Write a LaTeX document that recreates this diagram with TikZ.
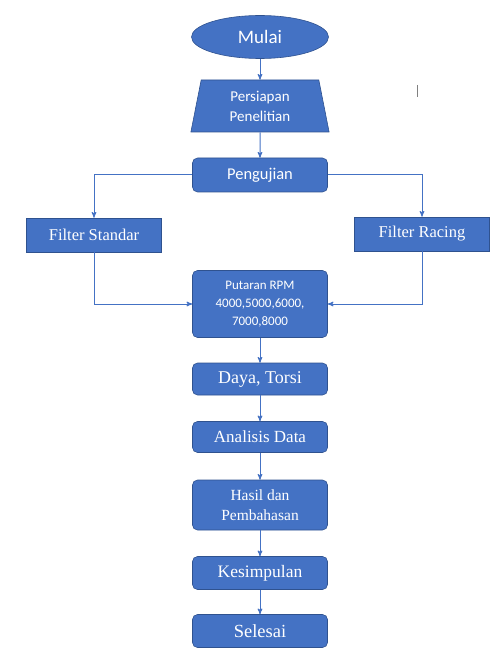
\documentclass[tikz,border=0pt]{standalone}
\usepackage{fontspec}
\setmainfont{Liberation Serif}
\newfontfamily\calibri{Carlito}
\usepackage{xcolor}
\usepackage{tikz}
\usetikzlibrary{arrows}
\usetikzlibrary{shapes.geometric}
\usetikzlibrary{positioning}

\definecolor{boxblue}{HTML}{4472C4}
\definecolor{edgeblue}{HTML}{2F528F}

\begin{document}
\begin{tikzpicture}[x=1pt,y=1pt,->,>=stealth',thick,node distance=60pt,
    flow/.style={draw=boxblue,line width=1pt},
    main node/.style={rectangle,rounded corners=5pt,fill=boxblue,draw=edgeblue,line width=0.6pt,text=white,align=center,minimum width=135pt,inner sep=2pt},
    plain node/.style={main node,rounded corners=0pt}]

    \useasboundingbox (0,0) rectangle (503,-652);

    \node[ellipse,fill=boxblue,draw=edgeblue,line width=0.6pt,text=white,minimum width=137pt,minimum height=43pt,font=\calibri\fontsize{19}{21}\selectfont] (mulai) at (260,-37) {Mulai};
    \node[trapezium,trapezium stretches=true,trapezium left angle=81,trapezium right angle=81,fill=boxblue,draw=edgeblue,line width=0.6pt,text=white,align=center,minimum width=139pt,minimum height=52pt,font=\calibri\fontsize{15}{20}\selectfont,on grid,below=69pt of mulai] (persiapan) {Persiapan\\Penelitian};
    \node[main node,minimum height=34pt,font=\calibri\fontsize{16.5}{18}\selectfont,on grid,below=69pt of persiapan] (pengujian) {Pengujian};
    \node[plain node,minimum height=34pt,font=\fontsize{16.5}{18}\selectfont,on grid,below left=60pt and 166pt of pengujian] (filter-standar) {Filter Standar};
    \node[plain node,minimum height=34pt,font=\fontsize{16.5}{18}\selectfont,on grid,below right=59pt and 162pt of pengujian] (filter-racing) {Filter Racing};
    \node[main node,minimum height=67pt,font=\calibri\fontsize{13}{18}\selectfont,on grid,below=129pt of pengujian] (putaran) {Putaran RPM\\4000,5000,6000,\\7000,8000};
    \node[main node,minimum height=32pt,font=\fontsize{18}{19}\selectfont,on grid,below=75pt of putaran] (daya-torsi) {Daya, Torsi};
    \node[main node,minimum height=31pt,font=\fontsize{17}{19}\selectfont,on grid,below=58pt of daya-torsi] (analisis) {Analisis Data};
    \node[main node,minimum height=50pt,font=\fontsize{15.5}{20}\selectfont,on grid,below=68pt of analisis] (hasil) {Hasil dan\\Pembahasan};
    \node[main node,minimum height=33pt,font=\fontsize{17.5}{19}\selectfont,on grid,below=68pt of hasil] (kesimpulan) {Kesimpulan};
    \node[main node,minimum height=33pt,font=\fontsize{18.5}{20}\selectfont,on grid,below=58pt of kesimpulan] (selesai) {Selesai};

    \path[flow]
        (mulai) edge (persiapan)
        (persiapan) edge (pengujian)
        (putaran) edge (daya-torsi)
        (daya-torsi) edge (analisis)
        (analisis) edge (hasil)
        (hasil) edge (kesimpulan)
        (kesimpulan) edge (selesai);

    \draw[flow] (pengujian.west) -| (filter-standar.north);
    \draw[flow] (pengujian.east) -| (filter-racing.north);
    \draw[flow] (filter-standar.south) |- (putaran.west);
    \draw[flow] (filter-racing.south) |- (putaran.east);

    % stray mark at top right
    \draw[-,gray,line width=1pt] (417,-85) -- (417,-97);

\end{tikzpicture}
\end{document}
